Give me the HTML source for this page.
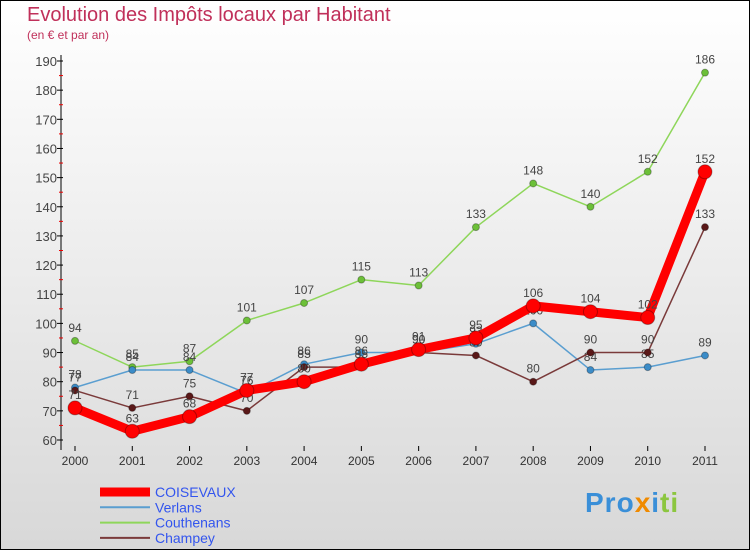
<!DOCTYPE html>
<html><head><meta charset="utf-8"><style>
body{margin:0;width:750px;height:550px;overflow:hidden;font-family:"Liberation Sans",sans-serif}
#wrap{position:relative;width:748px;height:548px;border:1px solid #000;background:linear-gradient(#fff,#d8d8d8)}
.t{position:absolute;left:26px;color:#c0305a}
</style></head><body>
<div id="wrap">
<div class="t" style="top:3px;font-size:20px">Evolution des Impôts locaux par Habitant</div>
<div class="t" style="top:27px;font-size:12px">(en € et par an)</div>
<svg id="c" width="750" height="550" style="position:absolute;left:-1px;top:-1px"></svg>
<div style="position:absolute;left:584px;top:486px;font-size:28px;font-weight:bold;letter-spacing:1px"><span style="color:#3a8fd8">Pro</span><span style="color:#f08a00">x</span><span style="color:#3a8fd8">i</span><span style="color:#8cc63f">ti</span></div>
</div>
<script>
const years=[2000,2001,2002,2003,2004,2005,2006,2007,2008,2009,2010,2011];
const coisevaux=[71,63,68,77,80,86,91,95,106,104,102,152];
const verlans=[78,84,84,76,86,90,90,93,100,84,85,89];
const couthenans=[94,85,87,101,107,115,113,133,148,140,152,186];
const champey=[77,71,75,70,85,85,90,89,80,90,90,133];
const yTicks=[60,70,80,90,100,110,120,130,140,150,160,170,180,190];
const seriesNames=["COISEVAUX","Verlans","Couthenans","Champey"];
const svg=document.getElementById('c');const NS='http://www.w3.org/2000/svg';
const x=i=>75+i*(630/11);
const y=v=>440-(v-60)*(379/130);
function el(t,a,p){const e=document.createElementNS(NS,t);for(const k in a)e.setAttribute(k,a[k]);(p||svg).appendChild(e);return e;}
let ax=el('line',{x1:61,y1:55,x2:61,y2:450,stroke:'#000'});


yTicks.forEach((v,i)=>{
  el('line',{x1:57,x2:63,y1:y(v),y2:y(v),stroke:'#000'});
  if(i<yTicks.length-1){el('line',{x1:59,x2:63,y1:y(v+5),y2:y(v+5),stroke:'#e00'});}
  const t=el('text',{x:57,y:y(v)+5,'text-anchor':'end','font-size':13,fill:'#444'});t.textContent=v;
  
  
});
years.forEach((yr,i)=>{
  el('line',{x1:x(i),x2:x(i),y1:446,y2:451,stroke:'#000'});
  const t=el('text',{x:x(i),y:465,'text-anchor':'middle','font-size':12,fill:'#333'});t.textContent=yr;
  
  
});
const defs=[[couthenans,'#8ed65a','#6cc038',1.5,3.5,'couthenans'],[verlans,'#5a9ed0','#3b8cc8',1.5,3.5,'verlans'],[champey,'#7a3a3a','#5a1818',1.5,3.5,'champey'],[coisevaux,'#f00','#f00',9,7,'coisevaux']];
defs.forEach(([d,lc,pc,w,r,n])=>{
  const l=el('polyline',{points:d.map((v,i)=>x(i)+','+y(v)).join(' '),fill:'none',stroke:lc,'stroke-width':w,'stroke-linejoin':'round'});
  
  
  d.forEach((v,i)=>{
    const c=el('circle',{cx:x(i),cy:y(v),r:r,fill:pc,stroke:'rgba(0,0,0,0.3)'});
    
    
    const t=el('text',{x:x(i),y:y(v)-9,'text-anchor':'middle','font-size':12,fill:'#444'});t.textContent=v;
    
    
  });
});
const lc=['#f00','#5a9ed0','#8ed65a','#7a3a3a'],lw=[9,2,2,2];
seriesNames.forEach((s,i)=>{
  const yy=492+i*15.3;
  el('line',{x1:100,x2:150,y1:yy,y2:yy,stroke:lc[i],'stroke-width':lw[i]});
  const t=el('text',{x:155,y:yy+5,'font-size':14,fill:'#3355ee'});t.textContent=s;
  
  
});
</script>
</body></html>
